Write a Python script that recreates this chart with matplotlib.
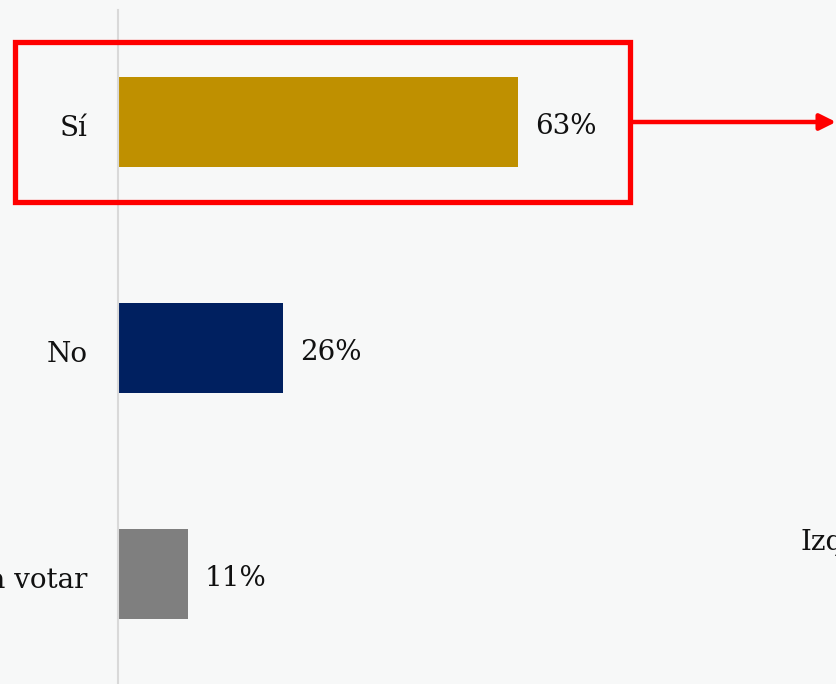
import matplotlib.pyplot as plt
from matplotlib.patches import Rectangle, FancyArrowPatch

categories = ["Sí", "No", "No va a votar"]
values = [63, 26, 11]
colors = ["#bf9000", "#002060", "#7f7f7f"]

W, H = 836, 684
bg = "#f7f8f8"
plt.rcParams['font.family'] = ['DejaVu Serif']

fig = plt.figure(figsize=(W / 100, H / 100), dpi=100, facecolor=bg)
# axes: left edge at x=118 px, top at y=10 px
ax = fig.add_axes([118 / W, 0, 1 - 118 / W, (H - 10) / H])
ax.set_facecolor(bg)

pos = list(range(len(categories)))
ax.barh(pos, values, height=0.398, color=colors)
ax.set_xlim(0, (W - 118) / 6.35)
ax.set_ylim(2 + 110 / 226, -112 / 226)

for p, v in zip(pos, values):
    ax.text(v + 17 / 6.35, p + 5 / 226, f"{v}%", va='center', ha='left', fontsize=20, color='#111111')

ax.set_yticks([p + 4 / 226 for p in pos])
ax.set_yticklabels(categories, fontsize=20, color='#111111')
ax.tick_params(axis='y', length=0, pad=22)
ax.set_xticks([])
for s in ['top', 'right', 'bottom']:
    ax.spines[s].set_visible(False)
ax.spines['left'].set_color('#d9d9d9')
ax.spines['left'].set_linewidth(1.5)

# red highlight box around the first bar and arrow to the right
fig.patches.append(Rectangle((15 / W, 1 - 202 / H), 615 / W, 160 / H,
                             transform=fig.transFigure, fill=False,
                             edgecolor='#ff0000', linewidth=3.8))
fig.patches.append(FancyArrowPatch((631 / W, 1 - 122 / H), (836 / W, 1 - 122 / H),
                                   transform=fig.transFigure, arrowstyle='-|>',
                                   mutation_scale=24, color='#ff0000', linewidth=3.2,
                                   shrinkA=0, shrinkB=0))

fig.text(800 / W, 1 - 543 / H, "Izquierda", fontsize=20, ha='left', va='center', color='#111111')

fig.savefig("out.png", dpi=100, facecolor=bg)
